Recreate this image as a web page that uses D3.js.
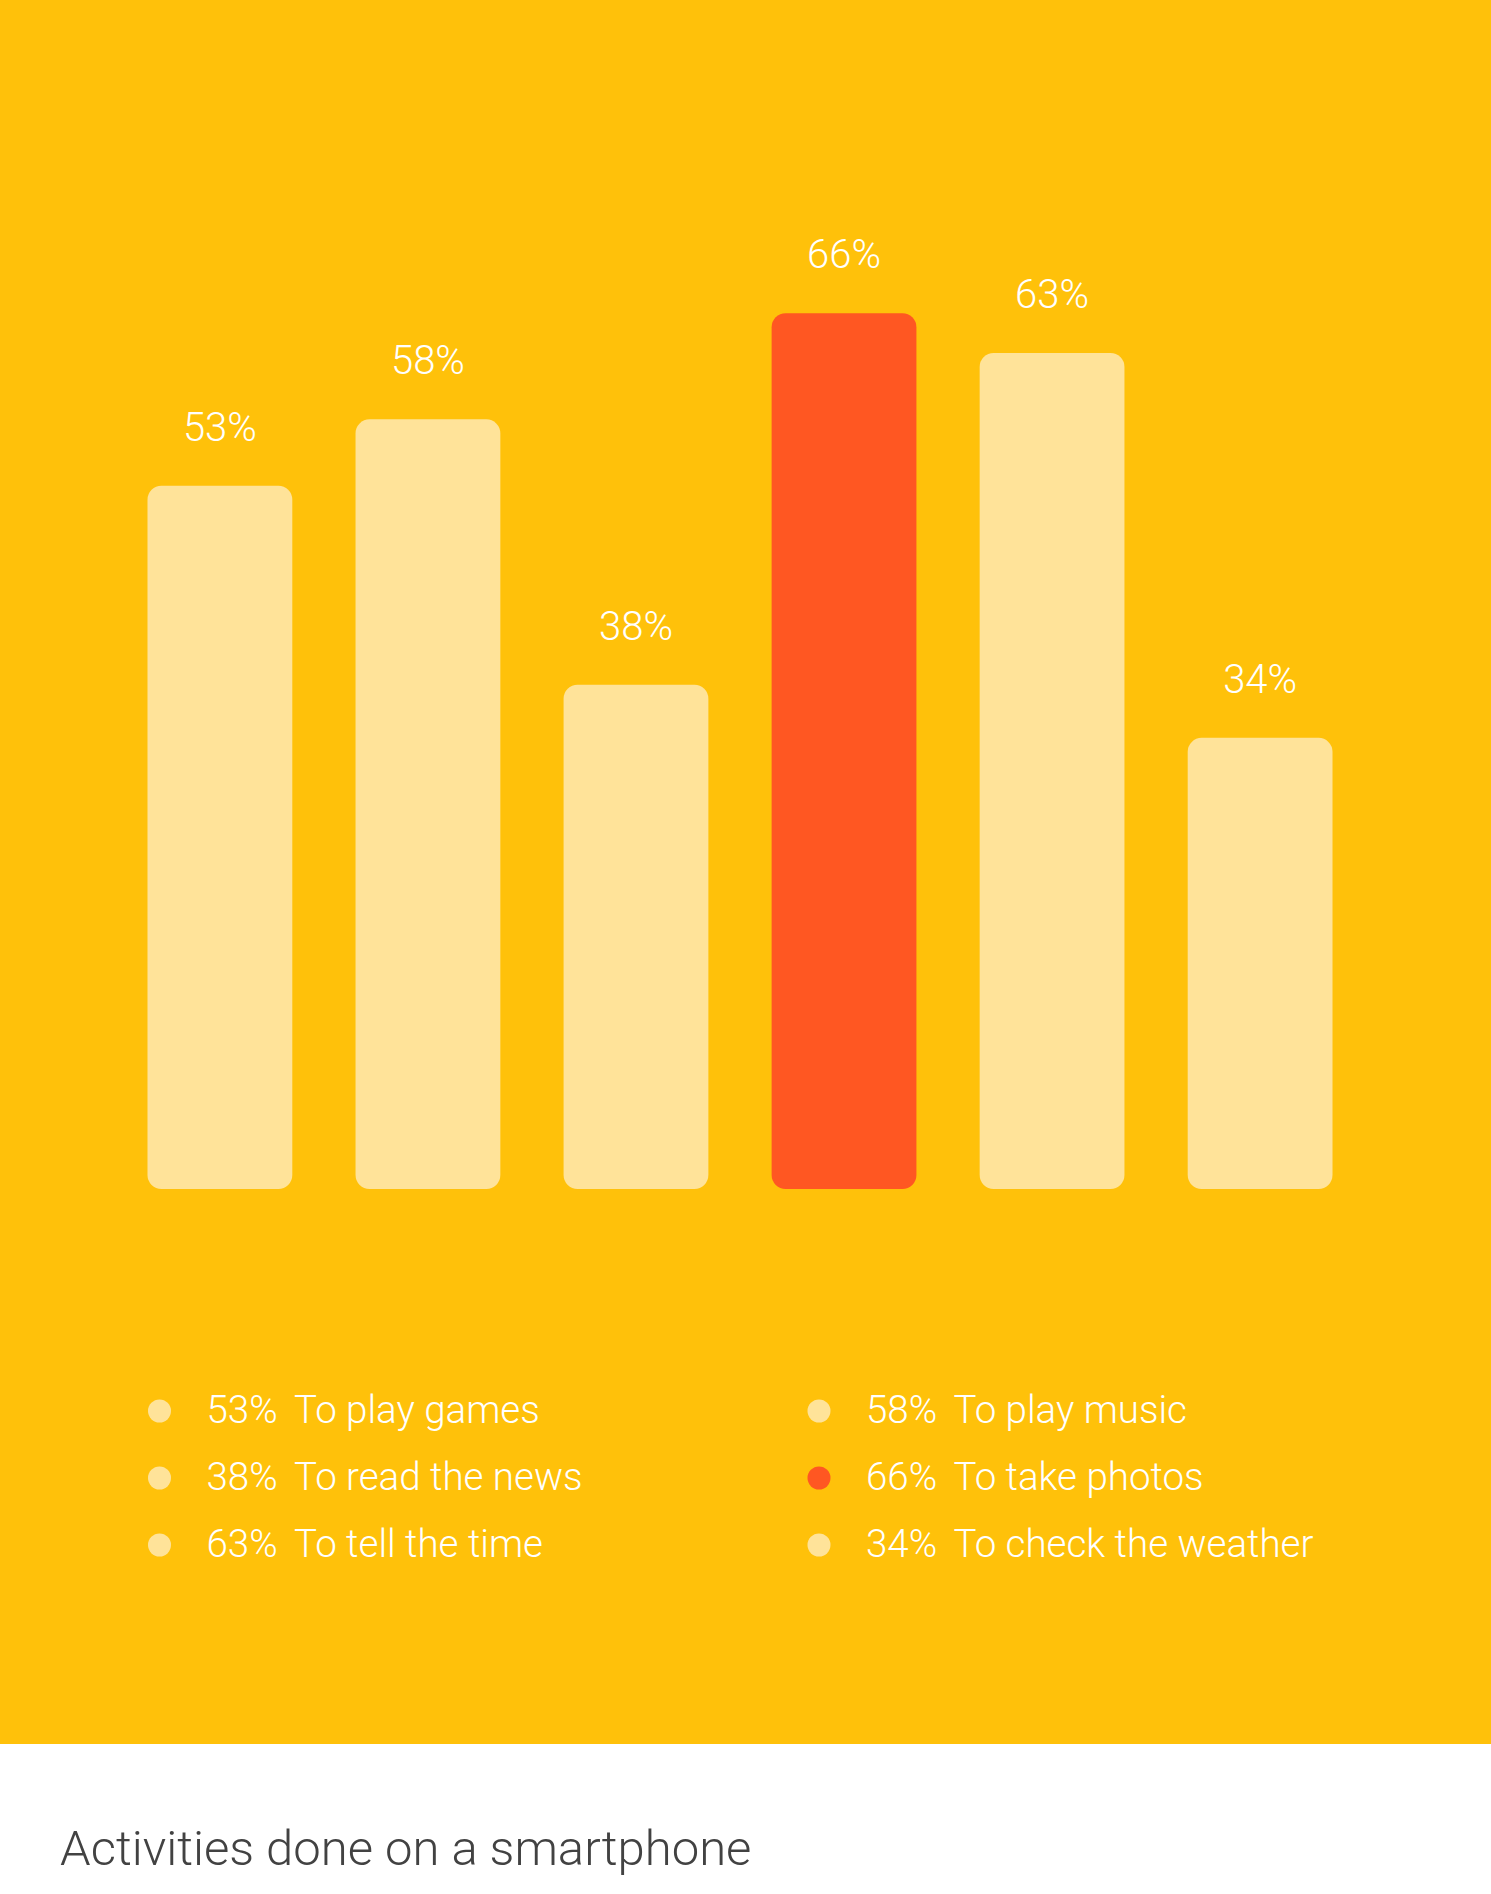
<!DOCTYPE html>
<html>
<head>
<meta charset="utf-8">
<script src="https://cdn.jsdelivr.net/npm/d3@7"></script>
<style>
  body { margin: 0; background: #fff; }
  svg { display: block; font-family: Roboto, 'Noto Sans', sans-serif; font-weight: 300; }
</style>
</head>
<body>
<div id="vis"></div>
<script>
// chart data
const activities = ['To play games', 'To play music', 'To read the news',
  'To take photos', 'To tell the time', 'To check the weather'];
const shares = [53, 58, 38, 66, 63, 34];
const highlighted = ['To take photos'];
const title = 'Activities done on a smartphone';

const width = 1491;
const height = 1894;
const panelHeight = 1744;

const svg = d3.select('#vis')
  .append('svg')
  .attr('width', width)
  .attr('height', height);

// yellow panel
svg.append('rect')
  .attr('width', width)
  .attr('height', panelHeight)
  .attr('fill', '#FFC10A');

const data = activities.map(function(a, i) {
  return {name: a, value: shares[i]};
});

const x = d3.scaleBand()
  .domain(activities)
  .range([147.5, 1332.5])
  .paddingInner(0.304)
  .paddingOuter(0);

const y = d3.scaleLinear()
  .domain([0, 100])
  .range([1189, 1189 - 1327]);

const color = function(d) {
  return highlighted.includes(d.name) ? '#FF5722' : '#FFE399';
};

// bars
svg.selectAll('.bar')
  .data(data)
  .enter()
  .append('rect')
  .attr('class', 'bar')
  .attr('x', function(d) { return x(d.name); })
  .attr('y', function(d) { return y(d.value); })
  .attr('width', x.bandwidth())
  .attr('height', function(d) { return y(0) - y(d.value); })
  .attr('rx', 14)
  .attr('fill', color);

// value labels
svg.selectAll('.val')
  .data(data)
  .enter()
  .append('text')
  .attr('class', 'val')
  .attr('x', function(d) { return x(d.name) + x.bandwidth() / 2; })
  .attr('y', function(d) { return y(d.value) - 45; })
  .attr('text-anchor', 'middle')
  .attr('font-size', 40)
  .attr('fill', '#fff')
  .text(function(d) { return d.value + '%'; });

// legend, two columns
const colX = [159.5, 819];
const rowY = [1423, 1490, 1557];

const item = svg.selectAll('.legend')
  .data(data)
  .enter()
  .append('g')
  .attr('class', 'legend')
  .attr('transform', function(d, i) {
    return 'translate(' + colX[i % 2] + ',' + rowY[Math.floor(i / 2)] + ')';
  });

item.append('circle')
  .attr('cx', 0)
  .attr('cy', -12)
  .attr('r', 11.5)
  .attr('fill', color);

item.append('text')
  .attr('x', 47)
  .attr('font-size', 38.5)
  .attr('fill', '#fff')
  .text(function(d) { return d.value + '%'; });

item.append('text')
  .attr('x', 134.5)
  .attr('font-size', 38.5)
  .attr('fill', '#fff')
  .text(function(d) { return d.name; });

// title
svg.append('text')
  .attr('x', 60)
  .attr('y', 1865)
  .attr('font-size', 49)
  .attr('fill', '#424242')
  .text(title);
</script>
</body>
</html>
